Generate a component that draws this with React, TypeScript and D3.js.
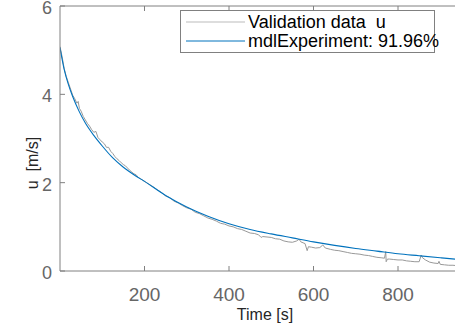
import React, { useEffect, useRef } from 'react';
import * as d3 from 'd3';

// model output (mdlExperiment)
const modelTime = [0, 10, 20, 30, 45, 60, 80, 100, 125, 150, 175, 200, 250, 300, 350, 400, 450, 500, 550, 600, 650, 700, 750, 800, 850, 900, 940];
const modelU = [5.06, 4.56, 4.22, 3.95, 3.62, 3.35, 3.07, 2.83, 2.56, 2.35, 2.18, 2.03, 1.71, 1.45, 1.24, 1.07, 0.94, 0.84, 0.75, 0.66, 0.58, 0.51, 0.45, 0.39, 0.345, 0.30, 0.265];

// measured validation data u
const valTime = [0, 5, 10, 15, 20, 25, 30, 35, 40, 43, 46, 50, 55, 60, 65, 70, 75, 80, 85, 90, 95, 100, 105, 110, 115, 120, 125, 130, 135, 140, 145, 150, 155, 160, 165, 170, 175, 180, 185, 190, 195, 200, 210, 220, 230, 240, 250, 260, 270, 280, 290, 300, 310, 320, 330, 340, 350, 360, 370, 380, 390, 400, 410, 420, 430, 440, 450, 460, 470, 476, 480, 490, 500, 510, 520, 530, 540, 550, 560, 566, 570, 580, 585, 588, 595, 605, 615, 622, 628, 640, 650, 660, 670, 680, 690, 700, 710, 720, 730, 740, 750, 760, 768, 771, 772, 775, 780, 790, 800, 810, 820, 830, 840, 850, 855, 858, 865, 875, 885, 895, 897, 900, 910, 920, 930, 940];
const valU = [5.08, 4.85, 4.58, 4.40, 4.26, 4.12, 3.98, 3.90, 3.80, 3.84, 3.68, 3.62, 3.50, 3.42, 3.34, 3.28, 3.20, 3.14, 3.16, 3.02, 2.97, 2.92, 2.88, 2.80, 2.80, 2.71, 2.66, 2.59, 2.54, 2.50, 2.45, 2.41, 2.38, 2.33, 2.28, 2.24, 2.20, 2.18, 2.12, 2.09, 2.06, 2.03, 1.97, 1.91, 1.84, 1.78, 1.70, 1.66, 1.58, 1.54, 1.48, 1.43, 1.40, 1.33, 1.30, 1.25, 1.20, 1.17, 1.13, 1.08, 1.06, 1.02, 1.00, 0.96, 0.94, 0.90, 0.86, 0.85, 0.82, 0.76, 0.78, 0.77, 0.76, 0.73, 0.72, 0.68, 0.66, 0.65, 0.68, 0.72, 0.66, 0.62, 0.46, 0.55, 0.54, 0.52, 0.53, 0.59, 0.52, 0.49, 0.47, 0.46, 0.44, 0.42, 0.40, 0.39, 0.38, 0.36, 0.35, 0.33, 0.31, 0.30, 0.29, 0.44, 0.21, 0.27, 0.27, 0.26, 0.25, 0.25, 0.23, 0.22, 0.21, 0.21, 0.36, 0.30, 0.25, 0.20, 0.18, 0.17, 0.22, 0.15, 0.14, 0.13, 0.13, 0.12];

const xTicks = [200, 400, 600, 800];
const yTicks = [0, 2, 4, 6];
const legendLabels = ['Validation data  u', 'mdlExperiment: 91.96%'];

const App = () => {
  const svgRef = useRef<SVGSVGElement>(null);

  useEffect(() => {
    const width = 455;
    const height = 327;
    const left = 60;
    const top = 6;
    const bottom = 271;
    const font = '"Liberation Sans", Arial, sans-serif';

    const svg = d3.select(svgRef.current).attr('width', width).attr('height', height);
    svg.selectAll('*').remove();

    const x = d3.scaleLinear().domain([0, 1000]).range([left, 482.5]);
    const y = d3.scaleLinear().domain([0, 6]).range([bottom, top]);

    svg.append('clipPath').attr('id', 'plotclip')
      .append('rect').attr('x', left).attr('y', top).attr('width', 440).attr('height', bottom - top);

    const line = d3.line<[number, number]>()
      .x(d => x(d[0]))
      .y(d => y(d[1]));

    const valData = valTime.map((t, i) => [t, valU[i]] as [number, number]);
    const modelData = modelTime.map((t, i) => [t, modelU[i]] as [number, number]);

    const g = svg.append('g').attr('clip-path', 'url(#plotclip)');
    g.append('path')
      .datum(valData)
      .attr('d', line)
      .attr('fill', 'none')
      .attr('stroke', '#999999')
      .attr('stroke-width', 1);

    g.append('path')
      .datum(modelData)
      .attr('d', line.curve(d3.curveMonotoneX))
      .attr('fill', 'none')
      .attr('stroke', '#0072BD')
      .attr('stroke-width', 1.1);

    // axes box (left, bottom, top)
    const axisColor = '#808080';
    svg.append('line').attr('x1', left).attr('x2', left).attr('y1', top).attr('y2', bottom)
      .attr('stroke', axisColor).attr('stroke-width', 1);
    svg.append('line').attr('x1', left).attr('x2', width).attr('y1', bottom).attr('y2', bottom)
      .attr('stroke', axisColor).attr('stroke-width', 1);
    svg.append('line').attr('x1', left).attr('x2', width).attr('y1', top).attr('y2', top)
      .attr('stroke', axisColor).attr('stroke-width', 1);

    // x ticks, inward on bottom and top
    xTicks.forEach(t => {
      svg.append('line').attr('x1', x(t)).attr('x2', x(t)).attr('y1', bottom).attr('y2', bottom - 5)
        .attr('stroke', axisColor);
      svg.append('line').attr('x1', x(t)).attr('x2', x(t)).attr('y1', top).attr('y2', top + 5)
        .attr('stroke', axisColor);
      svg.append('text').attr('x', x(t)).attr('y', 301)
        .attr('text-anchor', 'middle').attr('font-family', font).attr('font-size', 19)
        .attr('fill', '#666666').text(t);
    });

    yTicks.forEach(t => {
      svg.append('line').attr('x1', left).attr('x2', left + 5).attr('y1', y(t)).attr('y2', y(t))
        .attr('stroke', axisColor);
      svg.append('text').attr('x', 52).attr('y', y(t) + 8)
        .attr('text-anchor', 'end').attr('font-family', font).attr('font-size', 18)
        .attr('fill', '#666666').text(t);
    });

    svg.append('text').attr('x', 265).attr('y', 320)
      .attr('text-anchor', 'middle').attr('font-family', font).attr('font-size', 16)
      .attr('fill', '#262626').text('Time [s]');

    svg.append('text')
      .attr('transform', `translate(38, 163) rotate(-90)`)
      .attr('text-anchor', 'middle').attr('font-family', font).attr('font-size', 16)
      .attr('fill', '#262626').style('white-space', 'pre')
      .text('u  [m/s]');

    // legend
    const lg = svg.append('g');
    lg.append('rect').attr('x', 180.5).attr('y', 10.5).attr('width', 254).attr('height', 42)
      .attr('fill', 'white').attr('stroke', '#808080').attr('stroke-width', 1);
    const legendColors = ['#bbbbbb', '#0072BD'];
    legendLabels.forEach((label, i) => {
      const ly = 22 + i * 19;
      lg.append('line').attr('x1', 186).attr('x2', 245).attr('y1', ly).attr('y2', ly)
        .attr('stroke', legendColors[i]).attr('stroke-width', 1);
      lg.append('text').attr('x', 248).attr('y', ly + 6)
        .attr('font-family', font).attr('font-size', 18).attr('fill', '#000000')
        .style('white-space', 'pre').text(label);
    });
  }, []);

  return (
    <div style={{ position: 'absolute', left: 0, top: 0 }}>
      <svg ref={svgRef} style={{ display: 'block' }}></svg>
    </div>
  );
};

export default App;
